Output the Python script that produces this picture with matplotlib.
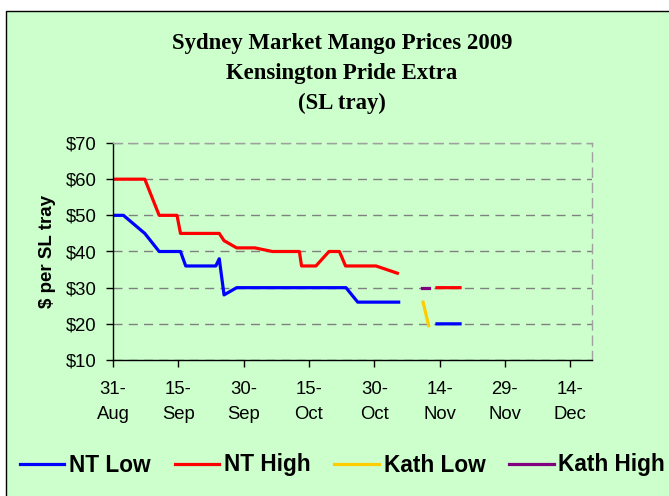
import numpy as np
import matplotlib.pyplot as plt
from matplotlib.patches import Rectangle

# x = days since 31 Aug 2009, y = $ per SL tray (nan = gap)
nt_low_day = [0, 2.4, 7.3, 10.6, 15.5, 16.7, 23.6, 24.4, 25.5, 28.4, 53.5, 56.2, 65.6, np.nan, 74.4, 79.7]
nt_low = [50, 50, 45, 40, 40, 36, 36, 38, 28, 30, 30, 26, 26, np.nan, 20, 20]

nt_high_day = [0, 7.3, 10.6, 14.7, 15.5, 24.4, 25.5, 28.4, 32.6, 36.6, 42.8, 43.3, 46.6,
               49.6, 52.0, 53.4, 60.4, 65.3, np.nan, 74.4, 79.7]
nt_high = [60, 60, 50, 50, 45, 45, 43, 41, 41, 40, 40, 36, 36, 40, 40, 36, 36, 34, np.nan, 30, 30]

kath_low_day = [71.2, 72.5]
kath_low = [26, 19.5]
kath_high_day = [71.0, 72.6]
kath_high = [30, 30]

tick_days = [0, 15, 30, 45, 60, 75, 90, 105]
tick_labels = ['31-\nAug', '15-\nSep', '30-\nSep', '15-\nOct', '30-\nOct', '14-\nNov', '29-\nNov', '14-\nDec']

title_lines = ['Sydney Market Mango Prices 2009', 'Kensington Pride Extra', '(SL tray)']

bg = '#CCFFCC'
plt.rcParams['font.family'] = ['Liberation Sans', 'DejaVu Sans']

fig = plt.figure(figsize=(6.69, 4.96), dpi=100)
fig.patch.set_facecolor('white')
fig.patches.append(Rectangle((5.5 / 669, -0.1), 1.2, 1 - 10.5 / 496 + 0.1, transform=fig.transFigure,
                             facecolor=bg, edgecolor='black', lw=1.0, zorder=-5))

ax = fig.add_axes([113 / 669, 136 / 496, 479 / 669, 217 / 496])
ax.set_facecolor(bg)

ax.plot(nt_low_day, nt_low, color='#0000FF', lw=2.3, label='NT Low')
ax.plot(nt_high_day, nt_high, color='#FF0000', lw=2.3, label='NT High')
ax.plot(kath_low_day, kath_low, color='#FFCC00', lw=2.3, label='Kath Low')
ax.plot(kath_high_day, kath_high, color='#800080', lw=2.3, label='Kath High')

ax.set_xlim(0, 110)
ax.set_ylim(10, 70)
ax.set_yticks(range(10, 71, 10))
ax.set_yticklabels(['$%d' % v for v in range(10, 71, 10)], fontsize=13.3)
ax.set_xticks(tick_days)
ax.set_xticklabels(tick_labels, fontsize=13.3, linespacing=1.65)
ax.tick_params(axis='both', direction='out', length=5, width=1, color='black', labelcolor='black')
ax.tick_params(axis='y', pad=7)
ax.tick_params(axis='x', pad=10)

ax.yaxis.grid(True, color='#808080', lw=1, dashes=(6.5, 4.5))
ax.set_axisbelow(True)
for s in ['left', 'bottom']:
    ax.spines[s].set_color('black')
    ax.spines[s].set_linewidth(1)
for s in ['top', 'right']:
    ax.spines[s].set_color('#A0A0A0')
    ax.spines[s].set_linewidth(1)
    ax.spines[s].set_linestyle((0, (6.5, 4.5)))

ax.set_ylabel('$ per SL tray', fontsize=13.5, fontweight='bold', labelpad=7)

for i, line in enumerate(title_lines):
    fig.text(342 / 669, 1 - (43 + 30 * i) / 496, line, ha='center', va='center',
             fontsize=16.4, fontweight='bold', family='Liberation Serif')

leg = fig.legend(loc='center left', bbox_to_anchor=(20 / 669, 1 - 465 / 496), ncol=4, frameon=False,
                 prop={'size': 16.3, 'weight': 'bold'}, handlelength=1.95, handletextpad=0.22,
                 columnspacing=1.06, borderaxespad=0, borderpad=0)

fig.savefig('out.png', dpi=100)
